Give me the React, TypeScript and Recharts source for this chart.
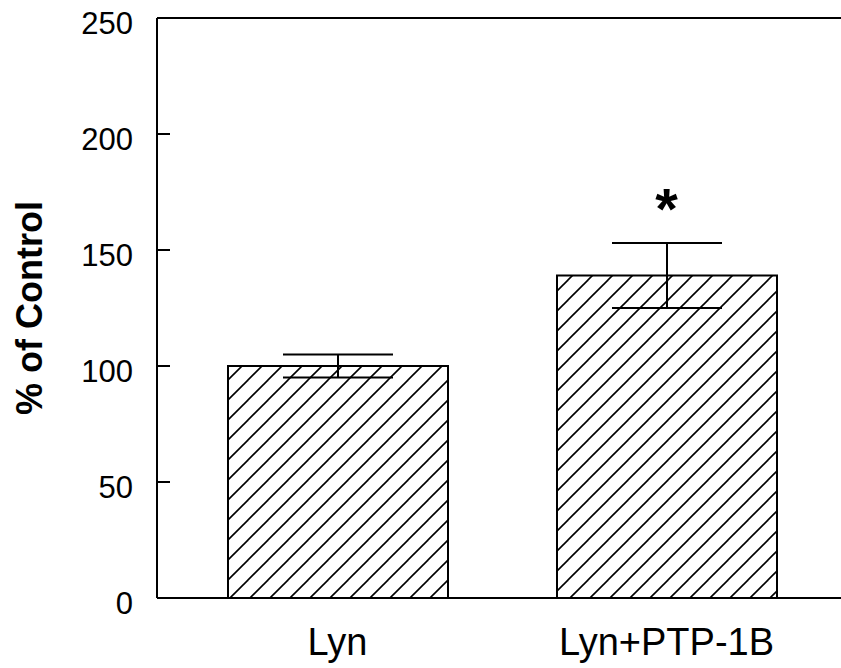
import React from "react";
import { BarChart, Bar, XAxis, YAxis, ErrorBar, ReferenceLine, ReferenceDot } from "recharts";

const categories = ["Lyn", "Lyn+PTP-1B"];
const percentOfControl = [100, 139];
const sem = [5, 14];
const significance = ["", "*"];
const asteriskLevel = 173;
const yTicks = [0, 50, 100, 150, 200, 250];

const data = categories.map((name, i) => ({
  name,
  value: percentOfControl[i],
  err: sem[i],
  sig: significance[i],
}));

const FONT = "'Liberation Sans', Arial, Helvetica, sans-serif";
const TICK_MARGIN = 24;

const YTick = (props: any) => {
  const { x, y, payload } = props;
  const axisX = x + TICK_MARGIN;
  return (
    <g>
      <line x1={axisX} x2={axisX + 13} y1={y} y2={y} stroke="#000" strokeWidth={2} />
      <text
        x={x}
        y={y + 5}
        textAnchor="end"
        dominantBaseline="central"
        fontFamily={FONT}
        fontSize={31}
        fill="#000"
      >
        {payload.value}
      </text>
    </g>
  );
};

const YLabel = (props: any) => {
  const vb = props.viewBox || {};
  const cy = (vb.y ?? 18) + (vb.height ?? 580) / 2;
  return (
    <text
      x={42}
      y={cy}
      transform={`rotate(-90, 42, ${cy})`}
      textAnchor="middle"
      fontFamily={FONT}
      fontWeight="bold"
      fontSize={36}
      fill="#000"
    >
      % of Control
    </text>
  );
};

export default function App() {
  return (
    <div style={{ position: "absolute", left: 0, top: 0, width: 841, height: 668, background: "#fff" }}>
      <BarChart
        width={841}
        height={668}
        data={data}
        margin={{ top: 18, right: 0, bottom: 0, left: 0 }}
      >
        <defs>
          <pattern
            id="hatch"
            patternUnits="userSpaceOnUse"
            width={20}
            height={20}
            patternTransform="translate(8,0)"
          >
            <rect width={20} height={20} fill="#fff" />
            <line x1={0} y1={20} x2={20} y2={0} stroke="#000" strokeWidth={1.6} />
            <line x1={-10} y1={10} x2={10} y2={-10} stroke="#000" strokeWidth={1.6} />
            <line x1={10} y1={30} x2={30} y2={10} stroke="#000" strokeWidth={1.6} />
          </pattern>
        </defs>
        <XAxis
          dataKey="name"
          height={70}
          padding={{ left: 16, right: 10 }}
          axisLine={{ stroke: "#000", strokeWidth: 2 }}
          tickLine={false}
          tickSize={0}
          tickMargin={30}
          tick={{ fontFamily: FONT, fontSize: 38, fill: "#000" }}
        />
        <YAxis
          width={157}
          domain={[0, 250]}
          ticks={yTicks}
          interval={0}
          axisLine={{ stroke: "#000", strokeWidth: 2 }}
          tickLine={false}
          tickSize={0}
          tickMargin={TICK_MARGIN}
          tick={<YTick />}
          label={<YLabel />}
        />
        <ReferenceLine y={250} stroke="#000" strokeWidth={2} />
        <Bar
          dataKey="value"
          barSize={220}
          fill="url(#hatch)"
          stroke="#000"
          strokeWidth={2}
          isAnimationActive={false}
        >
          <ErrorBar
            dataKey="err"
            width={55}
            stroke="#000"
            strokeWidth={2}
            direction="y"
            isAnimationActive={false}
          />
        </Bar>
        <ReferenceDot
          x={categories[1]}
          y={asteriskLevel}
          r={0}
          ifOverflow="visible"
          shape={(p: any) => (
            <text
              x={p.cx}
              y={p.cy + 32}
              textAnchor="middle"
              fontFamily={FONT}
              fontWeight="bold"
              fontSize={58}
              fill="#000"
            >
              {data[1].sig}
            </text>
          )}
        />
      </BarChart>
    </div>
  );
}
